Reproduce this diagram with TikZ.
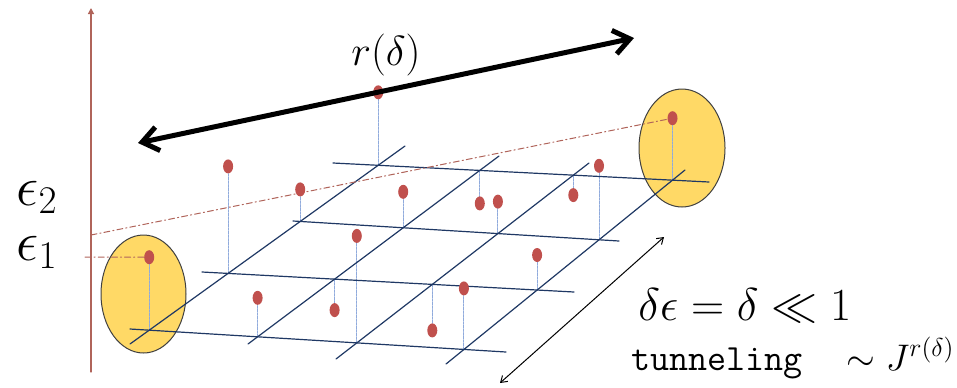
\RequirePackage{fix-cm}
\documentclass[tikz,border=0pt]{standalone}
\usepackage{amsmath,amssymb}
\usepackage{fontspec}
\usepackage{tikz}
\usetikzlibrary{arrows.meta,calc}
\usepackage{xcolor}
\definecolor{gridblue}{RGB}{31,56,100}
\definecolor{dropblue}{RGB}{143,170,220}
\definecolor{dotred}{RGB}{192,80,77}
\definecolor{siteyellow}{RGB}{255,217,102}
\definecolor{axisbrown}{RGB}{176,100,90}
\tikzset{
  grid line/.style={draw=gridblue,line width=.6pt},
  drop line/.style={draw=dropblue,line width=.5pt,dash pattern=on 1.2pt off .6pt},
  level line/.style={draw=axisbrown,line width=.5pt,dash pattern=on 3pt off 1.5pt on .6pt off 1.5pt},
  site blob/.style={fill=siteyellow,draw=black!75,line width=.5pt},
  big label/.style={inner sep=0pt}
}
\newcommand{\SiteDot}[1]{\fill[dotred] (#1) ellipse (5 and 7);}

\begin{document}
\begin{tikzpicture}[x=0.5pt,y=-0.5pt,line cap=round,line join=round]
  \useasboundingbox (0,0) rectangle (957,387);
  % The two resonant sites.
  \coordinate (lsite) at (143.5,294);
  \coordinate (rsite) at (682,148);
  \draw[site blob] (lsite) ellipse (42.5 and 59);
  \draw[site blob] (rsite) ellipse (43 and 59);

  % Ends of the lattice lines.
  \coordinate (ha1) at (333,163); \coordinate (hb1) at (709,182);
  \coordinate (ha2) at (293,221); \coordinate (hb2) at (619,241);
  \coordinate (ha3) at (202,272); \coordinate (hb3) at (574,292);
  \coordinate (ha4) at (130,329); \coordinate (hb4) at (506,352);
  \coordinate (da1) at (130,344); \coordinate (db1) at (405,146);
  \coordinate (da2) at (248,344); \coordinate (db2) at (499,156);
  \coordinate (da3) at (336,359); \coordinate (db3) at (589,163);
  \coordinate (da4) at (446,364); \coordinate (db4) at (685,170);
  % Lattice points (row i, column j).
  \coordinate (x11) at (378.2,165.3); \coordinate (x12) at (479.8,170.4);
  \coordinate (x13) at (573.3,175.1); \coordinate (x14) at (672.5,180.2);
  \coordinate (x21) at (300.2,221.4); \coordinate (x22) at (403.2,227.8);
  \coordinate (x23) at (497.9,233.6); \coordinate (x24) at (599.0,239.8);
  \coordinate (x31) at (228.1,273.4); \coordinate (x32) at (334.6,279.1);
  \coordinate (x33) at (432.3,284.4); \coordinate (x34) at (537.1,290.0);
  \coordinate (x41) at (149.2,330.2); \coordinate (x42) at (257.6,336.8);
  \coordinate (x43) at (356.8,342.9); \coordinate (x44) at (463.9,349.4);

  % Random on-site energies above/below each lattice point.
  \foreach \g/\dy [count=\k] in {31/-107,21/-32,22/-36,12/33,23/-32,13/20,24/-74,
      43/-107,34/-35,44/-61,42/-39,32/31,33/46,11/-73,41/-73,14/-62} {
    \coordinate (p\k) at ($(x\g)+(0,\dy)$);
    \draw[drop line] (x\g)--(p\k);
  }

  \foreach \i in {1,...,4} {
    \draw[grid line] (ha\i)--(hb\i);
    \draw[grid line] (da\i)--(db\i);
  }

  % Energy axis and the two levels.
  \coordinate (axbot) at (91,372);
  \coordinate (axtop) at (91,8);
  \coordinate (lev2) at (91,235);
  \coordinate (lev1) at (85,257);
  \draw[axisbrown,line width=.6pt,-{Triangle[length=3pt,width=3pt]}] (axbot)--(axtop);
  \draw[level line] (lev2)--(p16);
  \draw[level line] (lev1)--(p15);

  \foreach \k in {1,...,16} {\SiteDot{p\k}}

  % Distance between the sites.
  \coordinate (rl) at (138,143);
  \coordinate (rr) at (634,38);
  \draw[line width=2.5pt,{Straight Barb[length=8pt,width=12pt]}-{Straight Barb[length=8pt,width=12pt]}] (rl)--(rr);
  \coordinate (ra) at (500,383);
  \coordinate (rb) at (664,237);
  \draw[line width=.5pt,{Straight Barb[length=3pt,width=4pt]}-{Straight Barb[length=3pt,width=4pt]}] (ra)--(rb);

  \node[big label,font=\fontsize{21}{25}\selectfont] (rlab) at (386,55) {$r(\delta)$};
  \node[big label,anchor=base west,font=\fontsize{28}{34}\selectfont] (eps2) at (16,205) {$\epsilon_2$};
  \node[big label,anchor=base west,font=\fontsize{28}{34}\selectfont] (eps1) at (16,260) {$\epsilon_1$};
  \node[big label,anchor=base west,font=\fontsize{23}{27}\selectfont] (cond) at (638,320) {$\delta\epsilon = \delta \ll 1$};
  \node[big label,anchor=base west,font=\fontsize{18.5}{22}\selectfont] (tun) at (631,370)
    {\texttt{tunneling}\hspace{22pt}$\sim J^{r(\delta)}$};
\end{tikzpicture}
\end{document}
